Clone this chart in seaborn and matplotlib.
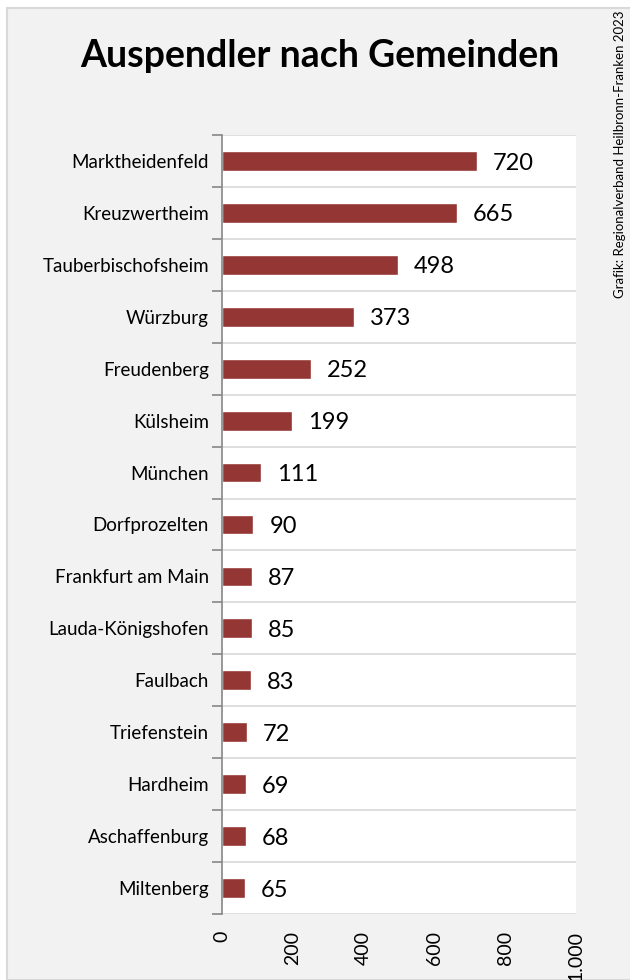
import numpy as np
import pandas as pd
import matplotlib
matplotlib.use("Agg")
import matplotlib.pyplot as plt
import seaborn as sns
from matplotlib.patches import Rectangle

gemeinden = ["Marktheidenfeld", "Kreuzwertheim", "Tauberbischofsheim", "Würzburg",
             "Freudenberg", "Külsheim", "München", "Dorfprozelten", "Frankfurt am Main",
             "Lauda-Königshofen", "Faulbach", "Triefenstein", "Hardheim",
             "Aschaffenburg", "Miltenberg"]
auspendler = [720, 665, 498, 373, 252, 199, 111, 90, 87, 85, 83, 72, 69, 68, 65]
x_ticks = [0, 200, 400, 600, 800, 1000]
x_labels = ["0", "200", "400", "600", "800", "1.000"]

sns.set_style("white")
plt.rcParams["font.family"] = ["Lato", "DejaVu Sans"]
plt.rcParams["text.color"] = "black"
plt.rcParams["xtick.color"] = "black"
plt.rcParams["ytick.color"] = "black"

bar_color = "#943634"

df = pd.DataFrame({"gemeinde": gemeinden, "auspendler": auspendler})

fig = plt.figure(figsize=(6.3, 9.8), dpi=100)
fig.patch.set_facecolor("white")
fig.patches.append(Rectangle((7 / 630, 0), 1, 1 - 8 / 980, transform=fig.transFigure,
                             facecolor="#f2f2f2", edgecolor="#d9d9d9", lw=1.5, zorder=-5))

ax = fig.add_axes([221.5 / 630, 1 - 914 / 980, (576 - 221.5) / 630, (914 - 135) / 980])
ax.set_zorder(2)
ax.set_facecolor("white")

sns.barplot(data=df, x="auspendler", y="gemeinde", orient="h", color=bar_color,
            width=0.38, saturation=1, ax=ax)

ax.set_xlim(0, 1000)
ax.set_ylim(len(gemeinden) - 0.5, -0.5)

for i, v in enumerate(auspendler):
    ax.text(v + 45, i + 0.04, str(v), va="center", ha="left", fontsize=17, color="black")

# category boundaries: gridlines and small ticks on the left
ax.set_yticks(np.arange(-0.5, len(gemeinden), 1), minor=True)
ax.yaxis.grid(True, which="minor", color="#d9d9d9", lw=1.2)
ax.yaxis.grid(False, which="major")
ax.tick_params(axis="y", which="minor", length=7, width=1.2, color="#868686", left=True)
ax.tick_params(axis="y", which="major", length=0, pad=9, labelsize=13.5)

ax.set_xticks(x_ticks)
ax.set_xticklabels(x_labels, rotation=90, fontsize=14)
ax.tick_params(axis="x", length=0, pad=12)

for s in ["top", "right", "bottom"]:
    ax.spines[s].set_visible(False)
ax.spines["left"].set_color("#868686")
ax.spines["left"].set_linewidth(1.2)
ax.set_axisbelow(True)

ax.set_xlabel("")
ax.set_ylabel("")

fig.text(0.508, 1 - 56 / 980, "Auspendler nach Gemeinden", ha="center", va="center",
         fontsize=27, fontweight="bold")
fig.text(620 / 630, 1 - 10 / 980, "Grafik: Regionalverband Heilbronn-Franken 2023",
         rotation=90, ha="center", va="top", fontsize=9.5)

fig.savefig("out.png", dpi=100)
